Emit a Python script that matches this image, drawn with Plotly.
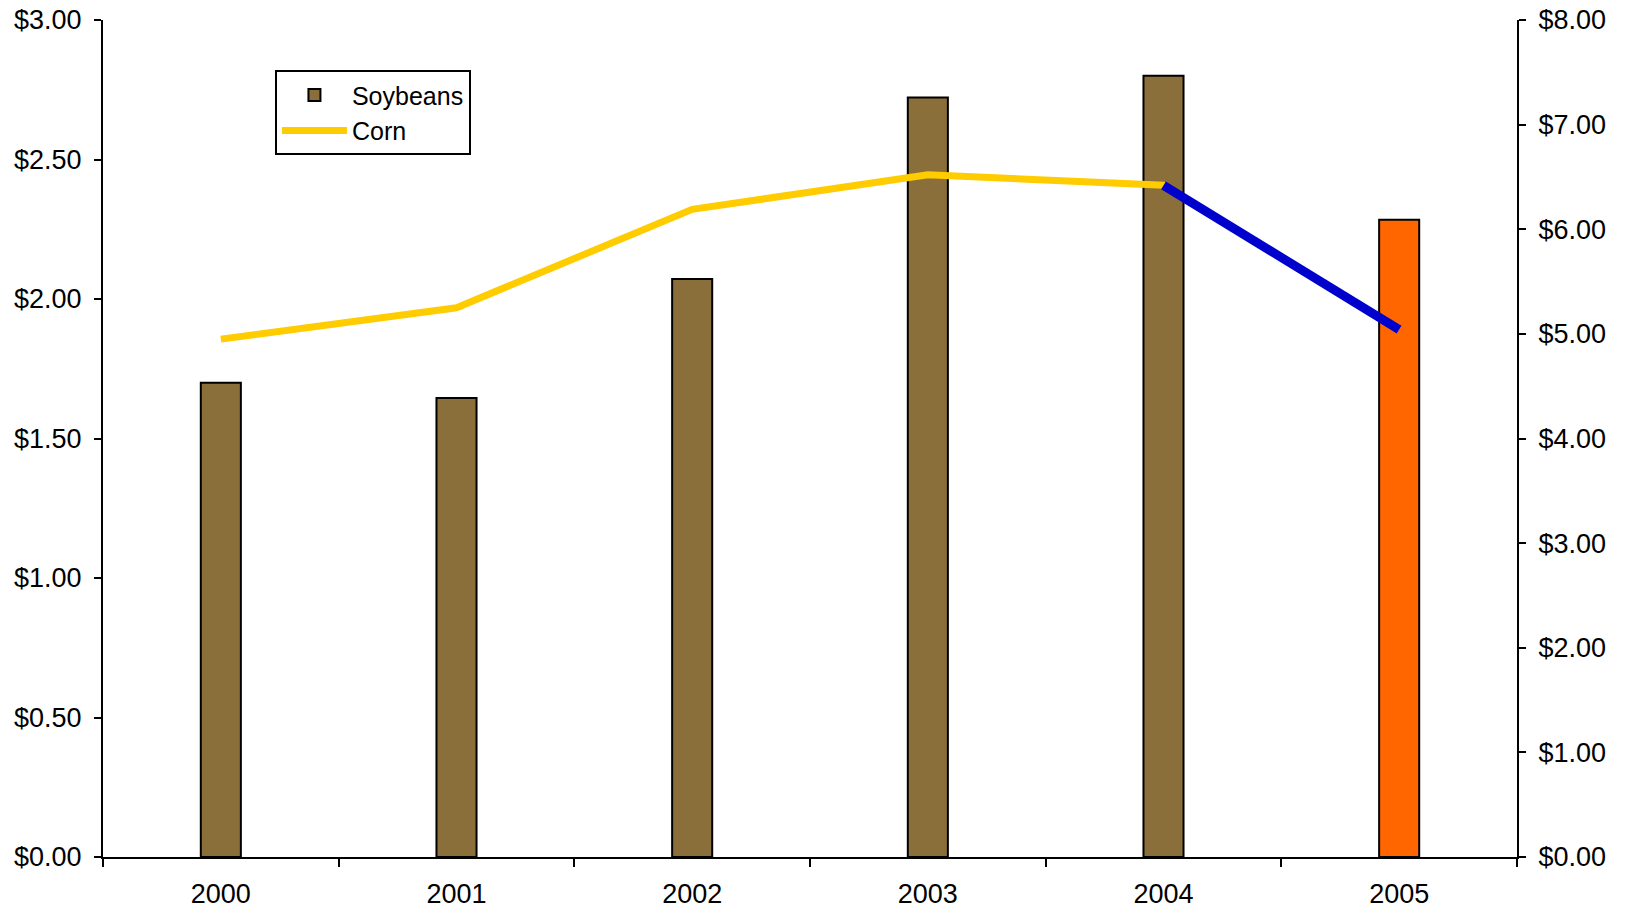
import plotly.graph_objects as go

years = ["2000", "2001", "2002", "2003", "2004", "2005"]
soybeans = [1.70, 1.645, 2.072, 2.722, 2.80, 2.284]
corn = [4.95, 5.25, 6.19, 6.52, 6.42, 5.04]
highlight_years = ["2004", "2005"]
highlight_corn = [6.42, 5.04]

bar_colors = ["#8B6F3B"] * 5 + ["#FF6600"]

left_ticks = [0, 0.5, 1.0, 1.5, 2.0, 2.5, 3.0]
right_ticks = [0, 1, 2, 3, 4, 5, 6, 7, 8]

fig = go.Figure()
fig.add_trace(go.Bar(
    x=years, y=soybeans, name="Soybeans",
    marker=dict(color=bar_colors, line=dict(color="black", width=2)),
    width=0.17,
))
fig.add_trace(go.Scatter(
    x=years, y=corn, name="Corn", yaxis="y2", mode="lines",
    line=dict(color="#FFCC00", width=7),
))
fig.add_trace(go.Scatter(
    x=highlight_years, y=highlight_corn, yaxis="y2", mode="lines",
    line=dict(color="#0000CC", width=9), showlegend=False,
))

font = "Liberation Sans, Arial, sans-serif"
fig.update_layout(
    width=1626, height=909,
    margin=dict(l=103, r=109, t=20, b=52),
    paper_bgcolor="white", plot_bgcolor="white",
    font=dict(family=font, size=27, color="black"),
    showlegend=True,
    legend=dict(
        x=0.1216, y=0.940, xanchor="left", yanchor="top",
        bordercolor="black", borderwidth=2, bgcolor="white",
        font=dict(size=25), itemwidth=65, tracegroupgap=0,
    ),
    xaxis=dict(
        type="category", range=[-0.5, 5.5], tickson="boundaries",
        ticks="outside", ticklen=8, tickwidth=2, tickcolor="black",
        showline=True, linecolor="black", linewidth=2,
        showgrid=False, tickfont=dict(size=27), automargin=False,
        ticklabelstandoff=12,
    ),
    yaxis=dict(
        range=[0, 3], tickvals=left_ticks,
        ticktext=["$%.2f" % v for v in left_ticks],
        ticks="outside", ticklen=7, tickwidth=2, tickcolor="black",
        showline=True, linecolor="black", linewidth=2,
        showgrid=False, zeroline=False, tickfont=dict(size=27),
        automargin=False, ticklabelstandoff=7,
    ),
    yaxis2=dict(
        range=[0, 8], tickvals=right_ticks,
        ticktext=["$%.2f" % v for v in right_ticks],
        overlaying="y", side="right",
        ticks="outside", ticklen=7, tickwidth=2, tickcolor="black",
        showline=True, linecolor="black", linewidth=2,
        showgrid=False, zeroline=False, tickfont=dict(size=27),
        automargin=False, ticklabelstandoff=7,
    ),
)

fig.write_html("out.html")
